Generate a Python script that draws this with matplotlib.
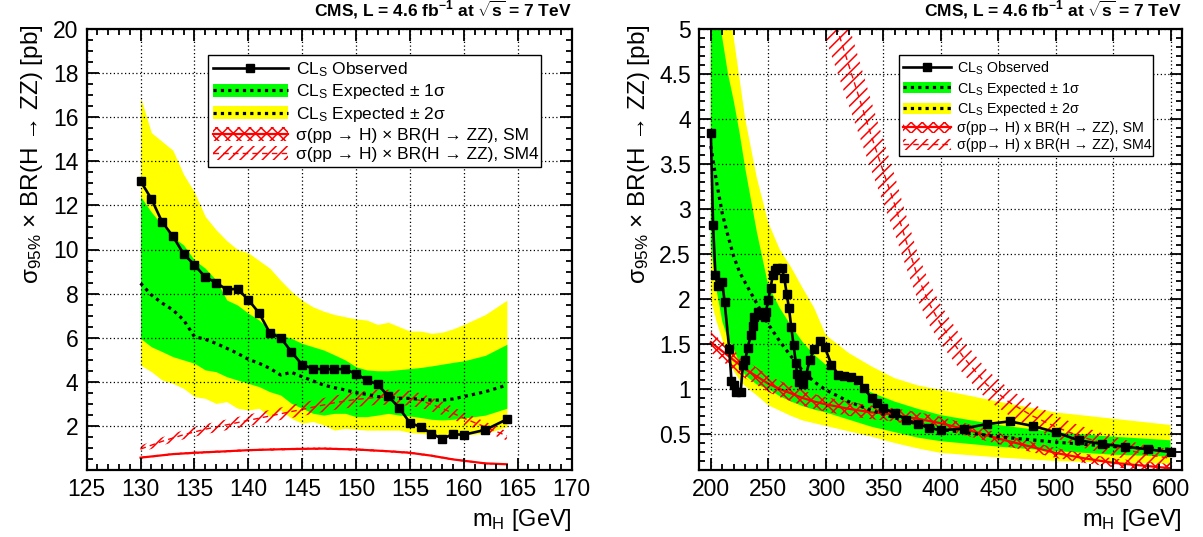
import numpy as np
import matplotlib
matplotlib.use("Agg")
import matplotlib.pyplot as plt
from matplotlib.ticker import MultipleLocator
from matplotlib.patches import Patch
from matplotlib.lines import Line2D

plt.rcParams['font.family'] = ['Liberation Sans', 'DejaVu Sans']
plt.rcParams['mathtext.fontset'] = 'custom'
plt.rcParams['mathtext.rm'] = 'Liberation Sans'
plt.rcParams['mathtext.it'] = 'Liberation Sans:italic'
plt.rcParams['mathtext.bf'] = 'Liberation Sans:bold'
plt.rcParams['hatch.linewidth'] = 1.1

# ---- low mass panel (130-164 GeV) ----
lo_mass = [130, 131, 132, 133, 134, 135, 136, 137, 138, 139, 140, 141, 142, 143, 144, 145, 146,
           147, 148, 149, 150, 151, 152, 153, 154, 155, 156, 157, 158, 159, 160, 162, 164]
lo_obs = [13.1, 12.3, 11.25, 10.6, 9.8, 9.3, 8.75, 8.5, 8.18, 8.22, 7.72, 7.12, 6.22, 6.0, 5.36,
          4.77, 4.6, 4.56, 4.58, 4.57, 4.36, 4.08, 3.88, 3.35, 2.82, 2.14, 1.95, 1.65, 1.42, 1.62,
          1.6, 1.82, 2.3]
lo_exp = [8.47, 7.94, 7.57, 7.26, 6.8, 6.05, 5.93, 5.74, 5.52, 5.29, 5.02, 4.84, 4.61, 4.31, 4.43,
          4.23, 4.04, 3.85, 3.73, 3.63, 3.51, 3.43, 3.33, 3.3, 3.25, 3.25, 3.2, 3.17, 3.17, 3.22,
          3.33, 3.55, 3.85]
lo_g_up = [12.4, 11.7, 11.1, 10.58, 10.2, 9.52, 9.15, 8.62, 7.71, 7.48, 7.11, 6.8, 6.35, 6.12, 5.97,
           5.74, 5.59, 5.44, 5.22, 4.99, 4.68, 4.54, 4.5, 4.5, 4.55, 4.6, 4.65, 4.72, 4.8, 4.88,
           4.95, 5.2, 5.7]
lo_g_lo = [5.97, 5.59, 5.37, 5.14, 4.99, 4.84, 4.54, 4.46, 4.23, 4.08, 3.93, 3.78, 3.55, 3.4, 3.02,
           2.8, 2.57, 2.49, 2.57, 2.57, 2.42, 2.42, 2.49, 2.57, 2.49, 2.45, 2.38, 2.3, 2.27, 2.3,
           2.35, 2.49, 2.8]
lo_y_up = [16.9, 15.3, 14.9, 14.5, 13.4, 12.6, 11.5, 10.9, 10.4, 10.0, 9.85, 9.5, 9.15, 8.6, 8.1,
           7.7, 7.4, 7.2, 7.05, 6.95, 6.85, 6.8, 6.6, 6.7, 6.5, 6.3, 6.3, 6.2, 6.25, 6.4, 6.6,
           7.05, 7.7]
lo_y_lo = [4.76, 4.46, 4.08, 3.93, 3.7, 3.33, 3.25, 3.02, 3.1, 2.8, 2.72, 2.8, 2.42, 2.72, 2.34,
           2.12, 2.2, 2.04, 1.81, 1.89, 1.85, 1.81, 1.81, 1.81, 1.81, 1.7, 1.66, 1.6, 1.5, 1.5,
           1.59, 1.66, 1.96]
lo_sm_mass = [130, 133, 135, 138, 140, 143, 145, 147, 150, 153, 155, 157, 159, 160, 162, 164]
lo_sm = [0.56, 0.72, 0.78, 0.85, 0.9, 0.94, 0.96, 0.97, 0.93, 0.85, 0.78, 0.65, 0.48, 0.42, 0.3, 0.26]
lo_sm4_mass = [130, 132, 134, 136, 138, 140, 142, 144, 146, 148, 150, 152, 154, 155, 156, 158, 160, 162, 164]
lo_sm4 = [0.95, 1.3, 1.6, 1.85, 2.05, 2.25, 2.45, 2.65, 2.85, 3.05, 3.2, 3.3, 3.3, 3.25, 3.15, 2.8,
          2.35, 1.95, 1.55]

# ---- high mass panel (200-600 GeV) ----
hi_mass = [200, 202, 204, 206, 210, 212, 216, 218, 220, 222, 226, 228, 230, 232, 235, 237, 238, 241,
           244, 247, 248, 250, 252, 254, 256, 258, 262, 264, 266, 268, 270, 272, 274, 275, 277, 280,
           283, 286, 290, 295, 299, 305, 311, 316, 322, 328, 333, 340, 345, 350, 360, 370, 380, 390,
           400, 420, 440, 460, 480, 500, 520, 540, 560, 580, 600]
hi_obs = [3.85, 2.82, 2.27, 2.14, 2.19, 1.97, 1.45, 1.09, 1.04, 0.97, 0.97, 1.27, 1.32, 1.46, 1.6,
          1.7, 1.8, 1.86, 1.82, 1.8, 1.86, 1.99, 2.12, 2.27, 2.32, 2.35, 2.34, 2.23, 2.06, 1.9,
          1.69, 1.49, 1.29, 1.17, 1.08, 1.06, 1.16, 1.32, 1.44, 1.53, 1.47, 1.27, 1.16, 1.14, 1.13,
          1.1, 1.01, 0.9, 0.84, 0.79, 0.73, 0.66, 0.61, 0.57, 0.54, 0.56, 0.61, 0.64, 0.59, 0.52,
          0.43, 0.39, 0.36, 0.33, 0.30]
hi_band_mass = [200, 205, 210, 215, 220, 225, 230, 240, 250, 260, 270, 280, 290, 300, 320, 340, 360,
                380, 400, 450, 500, 550, 600]
hi_exp = [3.7, 3.3, 2.95, 2.7, 2.47, 2.3, 2.18, 1.95, 1.72, 1.53, 1.36, 1.2, 1.08, 0.99, 0.86, 0.76,
          0.68, 0.61, 0.55, 0.47, 0.41, 0.36, 0.33]
hi_g_up = [6.5, 5.4, 4.9, 4.5, 4.2, 3.85, 3.45, 2.75, 2.15, 1.9, 1.7, 1.52, 1.38, 1.27, 1.1, 0.96,
           0.86, 0.78, 0.71, 0.6, 0.52, 0.47, 0.43]
hi_g_lo = [2.6, 2.1, 1.75, 1.55, 1.45, 1.28, 1.15, 1.05, 1.0, 0.92, 0.86, 0.81, 0.77, 0.74, 0.66,
           0.58, 0.52, 0.46, 0.42, 0.36, 0.31, 0.27, 0.25]
hi_y_up = [9.0, 7.5, 6.3, 5.5, 4.9, 4.45, 4.0, 3.35, 2.85, 2.55, 2.35, 2.12, 1.9, 1.6, 1.4, 1.25,
           1.12, 1.04, 0.99, 0.86, 0.74, 0.67, 0.6]
hi_y_lo = [2.0, 1.75, 1.55, 1.35, 1.2, 1.1, 1.03, 0.93, 0.82, 0.76, 0.7, 0.65, 0.62, 0.59, 0.53,
           0.47, 0.4, 0.34, 0.29, 0.24, 0.2, 0.18, 0.17]
hi_sm_mass = [200, 210, 220, 230, 240, 250, 260, 270, 280, 290, 300, 320, 340, 350, 360, 380, 400,
              425, 450, 475, 500, 525, 550, 575, 600]
hi_sm = [1.52, 1.42, 1.32, 1.22, 1.14, 1.06, 1.0, 0.95, 0.9, 0.86, 0.83, 0.78, 0.74, 0.73, 0.71,
         0.67, 0.62, 0.54, 0.45, 0.37, 0.29, 0.23, 0.18, 0.15, 0.12]
hi_sm4_mass = [300, 310, 320, 330, 340, 350, 360, 370, 380, 390, 400, 420, 440, 460, 480, 500, 520,
               540, 560, 580, 600]
hi_sm4 = [5.4, 5.0, 4.6, 4.2, 3.8, 3.42, 3.05, 2.64, 2.25, 1.95, 1.72, 1.35, 1.05, 0.85, 0.7, 0.58,
          0.48, 0.4, 0.33, 0.27, 0.23]

GREEN = '#00ff00'
YELLOW = '#ffff00'
title = r"CMS, L = 4.6 fb$^{\mathbf{-1}}$ at $\sqrt{\mathbf{s}}$ = 7 TeV"
ylab = r"$\mathrm{\sigma_{95\%}}$ × BR(H → ZZ) [pb]"
xlab = r"m$_\mathrm{H}$ [GeV]"
DOT = (0, (1, 1.3))


def draw_panel(ax, d, sm_w, legend_labels, leg_box, leg_fs, hl):
    ax.fill_between(d['band_m'], d['y_lo'], d['y_up'], color=YELLOW, lw=0, zorder=1)
    ax.fill_between(d['band_m'], d['g_lo'], d['g_up'], color=GREEN, lw=0, zorder=1.1)
    sm = np.array(d['sm'])
    sm4 = np.array(d['sm4'])
    ax.fill_between(d['sm_m'], sm - sm_w(sm), sm + sm_w(sm), facecolor='none',
                    edgecolor='red', hatch='xxx', lw=0, zorder=1.5)
    ax.plot(d['sm_m'], sm, color='red', lw=1.6, zorder=1.6)
    ax.fill_between(d['sm4_m'], sm4 - (0.08 * sm4 + 0.08), sm4 + (0.08 * sm4 + 0.08),
                    facecolor='none', edgecolor='red', hatch='///', lw=0, zorder=1.5)
    ax.plot(d['sm4_m'], sm4, color='red', lw=1.0, ls=(0, (4, 3)), zorder=1.6)
    ax.plot(d['band_m'], d['exp'], color='black', lw=2.3, ls=DOT, zorder=3)
    ax.plot(d['obs_m'], d['obs'], color='black', lw=1.9, marker='s', ms=5.8, zorder=4)

    ax.grid(True, which='major', color='black', ls=(0, (1, 2)), lw=0.9)
    ax.set_axisbelow(False)
    ax.tick_params(which='both', direction='in', top=True, right=True, labelsize=16.5,
                   width=1.3, pad=6)
    ax.tick_params(which='major', length=8.6)
    ax.tick_params(which='minor', length=4.3)
    for s in ax.spines.values():
        s.set_linewidth(1.6)

    ax.text(1.0, 1.018, title, transform=ax.transAxes, ha='right', va='bottom',
            fontsize=12.5, fontweight='bold')
    ax.set_ylabel(ylab, fontsize=17.5, loc='top')
    ax.set_xlabel(xlab, fontsize=17, loc='right')

    handles = [
        Line2D([], [], color='black', lw=1.9, marker='s', ms=5.8),
        (Patch(facecolor=GREEN, lw=0), Line2D([], [], color='black', lw=2.3, ls=DOT)),
        (Patch(facecolor=YELLOW, lw=0), Line2D([], [], color='black', lw=2.3, ls=DOT)),
        (Patch(facecolor='none', edgecolor='red', hatch='xxx', lw=0),
         Line2D([], [], color='red', lw=1.6)),
        (Patch(facecolor='none', edgecolor='red', hatch='///', lw=0),
         Line2D([], [], color='red', lw=1.0, ls=(0, (4, 3)))),
    ]
    leg = ax.legend(handles, legend_labels, loc='upper left', bbox_to_anchor=leg_box,
                    mode='expand', fontsize=leg_fs, frameon=True, fancybox=False,
                    edgecolor='black', framealpha=1, handlelength=hl, handleheight=0.8,
                    labelspacing=0.2, borderpad=0.3, handletextpad=0.45, borderaxespad=0)
    leg.get_frame().set_linewidth(1.0)
    leg.set_zorder(10)


fig = plt.figure(figsize=(12.03, 5.37), dpi=100)
ax1 = fig.add_axes([86.7 / 1203, 67 / 537, 484.8 / 1203, 441 / 537])
ax2 = fig.add_axes([699.3 / 1203, 67 / 537, 482.7 / 1203, 441 / 537])

lo = dict(band_m=lo_mass, y_lo=lo_y_lo, y_up=lo_y_up, g_lo=lo_g_lo, g_up=lo_g_up, exp=lo_exp,
          obs_m=lo_mass, obs=lo_obs, sm_m=lo_sm_mass, sm=lo_sm, sm4_m=lo_sm4_mass, sm4=lo_sm4)
hi = dict(band_m=hi_band_mass, y_lo=hi_y_lo, y_up=hi_y_up, g_lo=hi_g_lo, g_up=hi_g_up,
          exp=hi_exp, obs_m=hi_mass, obs=hi_obs, sm_m=hi_sm_mass, sm=hi_sm,
          sm4_m=hi_sm4_mass, sm4=hi_sm4)

lo_labels = [r"CL$_\mathrm{S}$ Observed",
             r"CL$_\mathrm{S}$ Expected ± 1σ",
             r"CL$_\mathrm{S}$ Expected ± 2σ",
             "σ(pp → H) × BR(H → ZZ), SM",
             "σ(pp → H) × BR(H → ZZ), SM4"]
hi_labels = [r"CL$_\mathrm{S}$ Observed",
             r"CL$_\mathrm{S}$ Expected ± 1σ",
             r"CL$_\mathrm{S}$ Expected ± 2σ",
             "σ(pp→ H) x BR(H → ZZ), SM",
             "σ(pp→ H) x BR(H → ZZ), SM4"]

draw_panel(ax1, lo, lambda v: 0.02 * v + 0.03, lo_labels, (0.25, 0.941, 0.687, 0.0), 12.5, 4.3)
draw_panel(ax2, hi, lambda v: 0.05 * v + 0.04, hi_labels, (0.414, 0.941, 0.526, 0.0), 10.3, 3.3)

ax1.set_xlim(125, 170)
ax1.set_ylim(0, 20)
ax1.xaxis.set_major_locator(MultipleLocator(5))
ax1.xaxis.set_minor_locator(MultipleLocator(1))
ax1.yaxis.set_minor_locator(MultipleLocator(0.5))
ax1.set_yticks([2, 4, 6, 8, 10, 12, 14, 16, 18, 20])

ax2.set_xlim(190, 610)
ax2.set_ylim(0.1, 5)
ax2.xaxis.set_minor_locator(MultipleLocator(10))
ax2.yaxis.set_minor_locator(MultipleLocator(0.1))
ax2.set_xticks([200, 250, 300, 350, 400, 450, 500, 550, 600])
ax2.set_yticks([0.5, 1, 1.5, 2, 2.5, 3, 3.5, 4, 4.5, 5])
ax2.set_yticklabels(['0.5', '1', '1.5', '2', '2.5', '3', '3.5', '4', '4.5', '5'])

ax1.yaxis.set_label_coords(-0.086, 1.01)
ax2.yaxis.set_label_coords(-0.098, 1.01)
ax1.xaxis.set_label_coords(1.0, -0.083)
ax2.xaxis.set_label_coords(1.0, -0.083)

fig.savefig("out.png", dpi=100)
